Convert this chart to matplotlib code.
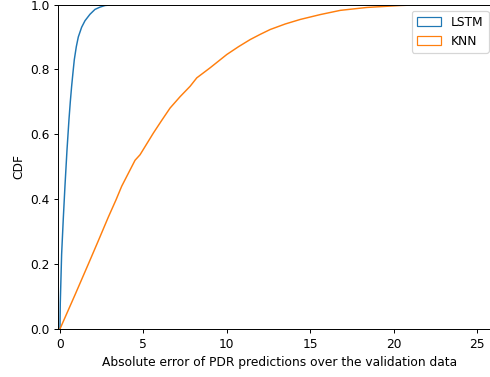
import numpy as np
import matplotlib
matplotlib.use("Agg")
import matplotlib.pyplot as plt
from matplotlib.patches import Patch

# CDF points
lstm_err = [0.0, 0.02, 0.1, 0.2, 0.3, 0.42, 0.54, 0.62, 0.7, 0.78, 0.86, 0.98, 1.1, 1.3, 1.5,
            1.8, 2.1, 2.4, 2.7, 3.3, 26.5]
lstm_cdf = [0.0, 0.08, 0.23, 0.34, 0.44, 0.55, 0.645, 0.70, 0.748, 0.79, 0.83, 0.87, 0.90, 0.93, 0.95,
            0.97, 0.985, 0.992, 0.997, 1.0, 1.0]

knn_err = [0.0, 0.9, 1.7, 2.3, 2.9, 3.36, 3.7, 4.1, 4.5, 4.8, 5.6, 6.1, 6.6, 7.2, 7.8, 8.2, 9.0,
           10.0, 10.7, 11.4, 12.0, 12.6, 13.5, 14.4, 15.6, 16.8, 18.4, 20.4, 22.0, 26.5]
knn_cdf = [0.0, 0.105, 0.2, 0.272, 0.345, 0.398, 0.44, 0.48, 0.52, 0.537, 0.604, 0.643, 0.681, 0.716,
           0.748, 0.774, 0.805, 0.846, 0.870, 0.892, 0.908, 0.923, 0.940, 0.954, 0.969, 0.982, 0.991,
           0.997, 1.0, 1.0]

fig = plt.figure(figsize=(491 / 88, 377 / 88), dpi=88)
ax = fig.add_axes([0.1187, 0.1273, 0.889, 0.8607])

ax.plot(lstm_err, lstm_cdf, color="C0", lw=1.2)
ax.plot(knn_err, knn_cdf, color="C1", lw=1.2)

ax.set_xlim(-0.1, 26.06)
ax.set_ylim(0, 1.0)
ax.set_xticks([0, 5, 10, 15, 20, 25])
ax.spines["right"].set_visible(False)

ax.set_xlabel("Absolute error of PDR predictions over the validation data")
ax.xaxis.set_label_coords(0.508, -0.083)
ax.set_ylabel("CDF")

handles = [Patch(facecolor="none", edgecolor="C0", label="LSTM"),
           Patch(facecolor="none", edgecolor="C1", label="KNN")]
ax.legend(handles=handles, loc="upper right")

fig.savefig("out.png", dpi=88)
